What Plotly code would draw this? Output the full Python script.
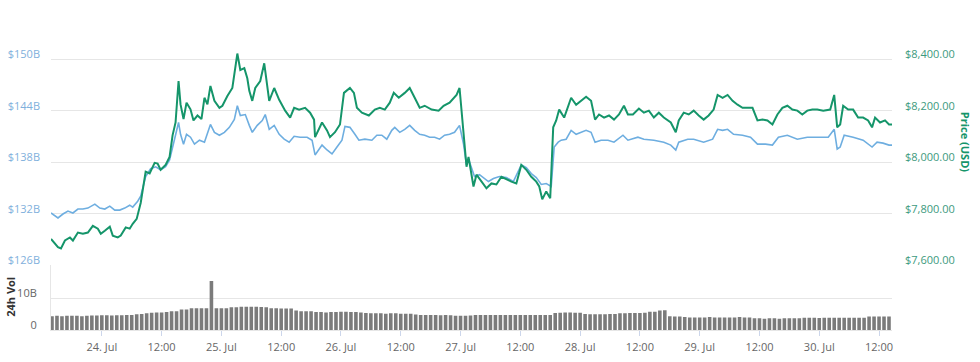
import pandas as pd
import plotly.graph_objects as go

# ---- data (hours are offsets from 24 Jul 2018 00:00) ----
price_h = [-10.2, -8.8, -8.2, -7.4, -6.4, -5.8, -4.8, -3.8, -2.8, -1.8, -0.8, -0.2, 0.6, 1.6, 2.2, 3.2, 3.8, 4.8, 5.6, 6.2,
           7.0, 7.8, 8.8, 9.6, 10.6, 11.2, 11.8, 12.8, 13.6, 14.2, 14.8, 15.4, 15.8, 16.4, 17.0, 17.8, 18.4, 19.2, 20.0, 20.6,
           21.2, 21.8, 22.6, 23.6, 24.2, 25.2, 26.2, 26.6, 27.2, 27.8, 28.6, 29.2, 29.6, 30.2, 30.8, 31.8, 32.6, 33.6, 34.6, 35.6,
           36.8, 37.8, 38.6, 39.6, 40.8, 41.8, 42.6, 42.8, 44.2, 45.2, 45.8, 46.8, 47.8, 48.6, 49.2, 49.8, 50.6, 51.2, 52.2, 53.6,
           54.8, 55.8, 56.8, 57.8, 58.6, 59.6, 60.8, 61.8, 62.8, 63.8, 64.8, 66.2, 67.6, 68.6, 69.8, 71.2, 71.8, 72.6, 73.2, 73.6,
           74.6, 75.2, 76.2, 77.2, 78.2, 79.2, 80.2, 81.2, 82.2, 83.2, 84.2, 85.2, 86.2, 87.2, 87.8, 88.4, 89.2, 90.0, 90.6, 91.2,
           91.8, 92.8, 94.2, 95.2, 96.2, 97.2, 98.2, 99.0, 99.8, 100.8, 101.8, 102.8, 103.8, 104.8, 105.6, 106.6, 107.8, 108.8, 109.8, 110.8,
           111.8, 112.8, 114.2, 115.2, 115.8, 116.8, 117.8, 118.8, 119.8, 120.8, 121.8, 122.8, 123.6, 124.6, 125.6, 126.6, 127.6, 128.6, 129.6, 130.6,
           131.6, 132.6, 133.6, 134.6, 135.6, 136.6, 137.6, 138.6, 139.6, 140.6, 141.6, 142.6, 143.6, 144.8, 146.2, 147.0, 147.6, 148.2, 148.8, 149.8,
           150.8, 151.8, 152.8, 153.8, 154.6, 155.2, 156.2, 157.2, 158.0, 158.6]
price_usd = [7702, 7670, 7665, 7696, 7708, 7696, 7727, 7722, 7727, 7753, 7742, 7722, 7734, 7750, 7715, 7708, 7715, 7747, 7742, 7761,
             7780, 7842, 7964, 7957, 7998, 7995, 7971, 7990, 8021, 8105, 8155, 8316, 8225, 8168, 8232, 8206, 8163, 8182, 8168, 8251,
             8225, 8297, 8239, 8212, 8220, 8258, 8289, 8340, 8423, 8359, 8366, 8327, 8278, 8239, 8289, 8316, 8385, 8239, 8289, 8243,
             8201, 8174, 8212, 8205, 8212, 8193, 8166, 8098, 8155, 8124, 8098, 8117, 8147, 8270, 8281, 8289, 8270, 8212, 8193, 8182,
             8205, 8212, 8205, 8232, 8270, 8251, 8270, 8289, 8251, 8212, 8220, 8205, 8201, 8220, 8232, 8262, 8289, 8109, 7983, 8021,
             7906, 7952, 7925, 7899, 7918, 7914, 7944, 7933, 7925, 7918, 7990, 7971, 7944, 7925, 7906, 7856, 7887, 7860, 8136, 8163,
             8205, 8174, 8251, 8224, 8239, 8255, 8239, 8166, 8186, 8174, 8182, 8166, 8186, 8220, 8186, 8186, 8209, 8193, 8201, 8174,
             8193, 8174, 8155, 8117, 8163, 8193, 8186, 8201, 8182, 8166, 8182, 8205, 8262, 8251, 8262, 8239, 8224, 8212, 8212, 8212,
             8163, 8166, 8163, 8147, 8186, 8212, 8220, 8205, 8201, 8186, 8201, 8205, 8205, 8201, 8205, 8262, 8136, 8147, 8220, 8205,
             8205, 8174, 8174, 8163, 8136, 8174, 8155, 8163, 8147, 8147]

mcap_h = [-10.2, -8.8, -7.8, -6.8, -5.8, -4.8, -3.8, -2.8, -1.4, -0.4, 0.6, 1.6, 2.6, 3.6, 4.6, 5.6, 6.2, 7.2, 7.8, 8.8,
          9.8, 10.8, 11.8, 12.8, 13.6, 14.2, 14.8, 15.4, 15.8, 16.4, 17.0, 17.8, 18.6, 19.6, 20.6, 21.2, 21.8, 22.6, 23.6, 24.6,
          25.6, 26.6, 27.2, 27.8, 28.8, 29.6, 30.2, 31.2, 32.2, 32.8, 33.6, 34.6, 35.6, 36.6, 37.6, 38.6, 39.8, 41.2, 42.2, 42.8,
          44.2, 45.2, 46.2, 47.2, 48.2, 48.8, 49.8, 50.8, 51.6, 52.8, 54.2, 55.2, 56.2, 57.2, 58.2, 58.8, 59.8, 60.8, 61.8, 62.8,
          63.8, 64.8, 65.8, 66.8, 67.8, 68.8, 69.8, 70.8, 71.8, 72.6, 73.2, 73.6, 74.8, 75.8, 77.6, 78.6, 79.8, 81.2, 82.6, 84.2,
          85.2, 86.2, 87.2, 88.2, 89.2, 90.2, 90.8, 91.6, 92.2, 93.2, 94.2, 95.2, 96.2, 97.2, 98.2, 99.0, 100.2, 101.6, 102.8, 104.6,
          105.6, 107.6, 108.8, 110.8, 112.8, 114.2, 115.2, 115.8, 117.6, 118.8, 120.8, 122.6, 123.6, 124.6, 125.6, 126.8, 128.6, 130.2, 131.6, 133.2,
          134.6, 135.8, 137.6, 139.6, 141.6, 143.6, 145.8, 147.0, 147.6, 148.2, 149.0, 150.8, 152.8, 154.6, 155.6, 156.8, 158.0, 158.6]
mcap_b = [132.09, 131.51, 131.97, 132.32, 132.09, 132.55, 132.55, 132.66, 133.12, 132.66, 132.55, 132.89, 132.43, 132.43, 132.66, 133.0, 132.78, 133.46, 134.04, 136.34,
          137.25, 137.48, 137.14, 137.48, 138.29, 139.78, 140.93, 142.65, 141.27, 140.12, 141.27, 140.93, 140.12, 140.58, 140.35, 141.27, 142.42, 141.5, 141.16, 141.5,
          142.08, 143.0, 144.6, 143.45, 143.57, 142.31, 141.5, 142.31, 142.88, 143.57, 141.85, 142.31, 141.27, 140.7, 140.35, 141.04, 140.93, 140.93, 140.58, 138.86,
          140.01, 139.44, 138.98, 139.78, 140.58, 142.19, 142.08, 141.27, 140.58, 140.7, 140.58, 141.16, 141.16, 140.7, 141.73, 142.08, 141.5, 141.85, 142.31, 141.73,
          141.27, 141.16, 140.93, 140.93, 140.7, 141.16, 141.27, 141.5, 142.31, 140.12, 137.71, 138.4, 136.34, 136.56, 135.76, 136.11, 136.34, 136.22, 135.76, 137.71,
          137.37, 136.68, 136.22, 135.42, 135.53, 135.19, 139.78, 140.35, 140.58, 140.7, 141.73, 141.27, 141.5, 141.73, 141.5, 140.35, 140.58, 140.58, 140.35, 141.16,
          140.58, 140.93, 140.7, 140.58, 140.35, 140.01, 139.44, 140.35, 140.7, 140.7, 140.35, 140.7, 141.85, 141.73, 141.85, 141.27, 141.16, 140.93, 140.12, 140.12,
          140.01, 140.93, 141.16, 140.7, 140.93, 140.93, 140.93, 141.85, 139.55, 139.78, 141.16, 140.93, 140.58, 139.78, 140.35, 140.24, 140.01, 140.01]

# hourly 24h volume, billions USD, from 23 Jul 14:00 to 30 Jul 14:00
vol_b = [4.4, 4.5, 4.4, 4.5, 4.5, 4.5, 4.4, 4.5, 4.6, 4.6,
         4.7, 4.7, 4.6, 4.7, 4.7, 4.8, 4.8,
         5.0, 5.1, 5.3, 5.5,
         5.6, 5.6, 5.7, 6.0, 6.0,
         6.5, 6.5,
         6.9, 6.9, 6.9, 6.9,
         15.6,
         6.9, 6.9, 6.9,
         7.2, 7.2,
         7.4, 7.4, 7.4, 7.4, 7.3,
         7.2,
         6.9, 6.9, 6.8, 6.8, 6.8,
         6.2, 6.0, 6.0, 6.0,
         5.7, 5.7, 5.6, 5.7, 5.7, 5.8, 5.8, 5.7, 5.7, 5.6,
         5.4, 5.3, 5.3, 5.3, 5.2, 5.3, 5.3, 5.2, 5.2, 5.2,
         4.9, 4.8, 4.8, 4.8, 4.8, 4.7, 4.8, 4.7,
         4.5, 4.5, 4.5, 4.6,
         4.8, 4.8, 4.8, 4.8, 4.8, 4.8, 4.8, 4.8, 4.8, 4.8, 4.8, 4.8, 4.8, 4.8, 4.8, 4.8,
         5.4, 5.5, 5.6, 5.6, 5.5, 5.5,
         5.1, 5.0, 5.0, 5.0, 5.0, 5.1, 5.1,
         5.3, 5.3, 5.4, 5.4, 5.4, 5.5,
         5.8, 5.8,
         6.2, 6.3,
         4.4, 4.3, 4.3,
         4.1, 4.0, 4.0, 4.0, 4.0, 4.1, 4.0, 4.0, 4.0, 4.0, 4.0, 4.1, 4.0, 4.0,
         3.7, 3.7, 3.6, 3.7, 3.7, 3.6, 3.7, 3.7, 3.7, 3.7,
         3.9, 3.9, 3.9, 3.8, 3.9, 3.9, 3.9, 3.9, 3.9, 3.9, 3.9, 3.9, 3.9,
         4.3, 4.3, 4.3, 4.3, 4.3]
vol_first_hour = -10

x_tick_hours = [0, 12, 24, 36, 48, 60, 72, 84, 96, 108, 120, 132, 144, 156]
x_tick_text = ["24. Jul", "12:00", "25. Jul", "12:00", "26. Jul", "12:00", "27. Jul", "12:00",
               "28. Jul", "12:00", "29. Jul", "12:00", "30. Jul", "12:00"]
mcap_ticks = [126, 132, 138, 144, 150, 156]
mcap_tick_text = ["$126B", "$132B", "$138B", "$144B", "$150B", ""]
price_ticks = [7600, 7800, 8000, 8200, 8400, 8600]
price_tick_text = ["$7,600.00", "$7,800.00", "$8,000.00", "$8,200.00", "$8,400.00", ""]
vol_ticks = [0, 10]
vol_tick_text = ["0", "10B"]

# ---- build ----
t0 = pd.Timestamp("2018-07-24 00:00")
to_t = lambda hs: [t0 + pd.Timedelta(hours=h) for h in hs]
vol_t = to_t([vol_first_hour + i for i in range(len(vol_b))])

BLUE = "#6eaee0"
GREEN = "#15956a"
FONT = "Open Sans"

fig = go.Figure()
fig.add_trace(go.Scatter(x=to_t(mcap_h), y=mcap_b, mode="lines", yaxis="y",
                         line=dict(color=BLUE, width=1.6), name="Market Cap"))
fig.add_trace(go.Scatter(x=to_t(price_h), y=price_usd, mode="lines", yaxis="y2",
                         line=dict(color=GREEN, width=2), name="Price (USD)"))
fig.add_trace(go.Bar(x=vol_t, y=vol_b, yaxis="y3", width=3600000 * 0.72,
                     marker=dict(color="#7b7b7b", line=dict(width=0)), name="24h Vol"))

split = (336 - 270) / 328.0
fig.update_layout(
    width=980, height=362,
    margin=dict(l=48, r=88, t=8, b=26),
    paper_bgcolor="white", plot_bgcolor="white",
    showlegend=False,
    font=dict(family=FONT, size=11, color="#666666"),
    xaxis=dict(type="date", anchor="y3",
               range=[t0 + pd.Timedelta(hours=-10.2), t0 + pd.Timedelta(hours=158.6)],
               tickvals=to_t(x_tick_hours), ticktext=x_tick_text,
               ticks="outside", ticklen=5, tickcolor="#ccd6eb", tickwidth=1,
               ticklabelstandoff=2,
               showgrid=False, zeroline=False, showline=True, linecolor="#e6e6e6",
               tickfont=dict(size=11, color="#666666")),
    yaxis=dict(domain=[split, 1], range=[126, 156],
               tickvals=mcap_ticks, ticktext=mcap_tick_text,
               showgrid=True, gridcolor="#e6e6e6", zeroline=False,
               tickfont=dict(size=11, color="#7fb0dc"),
               ticklabelshift=-5, ticklabelstandoff=10),
    yaxis2=dict(overlaying="y", side="right", range=[7600, 8600],
                tickvals=price_ticks, ticktext=price_tick_text,
                showgrid=False, zeroline=False,
                tickfont=dict(size=11, color="#3d9a7e"),
                ticklabelshift=-5, ticklabelstandoff=12),
    yaxis3=dict(domain=[0, split], range=[0, 20.6],
                tickvals=vol_ticks, ticktext=vol_tick_text,
                showgrid=True, gridcolor="#e6e6e6", zeroline=False,
                showline=True, linecolor="#e6e6e6",
                tickfont=dict(size=11, color="#666666"),
                ticklabelshift=-5, ticklabelstandoff=11),
)

fig.add_annotation(text="<b>Price (USD)</b>", xref="paper", yref="paper",
                   x=1 + (966 - 892) / 844.0, xanchor="center",
                   y=(336 - 145) / 328.0, yanchor="middle",
                   textangle=90, showarrow=False,
                   font=dict(family=FONT, size=11, color=GREEN))
fig.add_annotation(text="<b>24h Vol</b>", xref="paper", yref="paper",
                   x=(7 - 48) / 844.0, xanchor="center",
                   y=(336 - 302) / 328.0, yanchor="middle",
                   textangle=-90, showarrow=False,
                   font=dict(family=FONT, size=11, color="#333333"))

fig.write_html("out.html")
